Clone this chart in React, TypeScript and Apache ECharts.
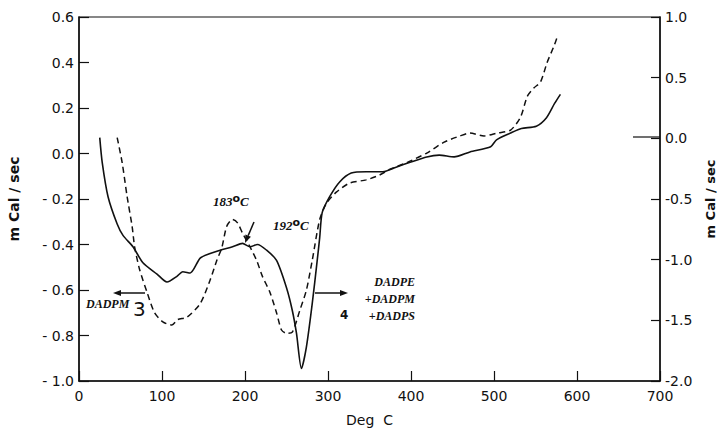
import React, { useEffect, useRef } from "react";
import * as echarts from "echarts";

// Solid curve (DADPE + DADPM + DADPS), temperature in °C, heat flow in mCal/sec
const tempSolid = [25, 28, 35, 46, 53, 65, 77, 94, 106, 118, 125, 134, 146, 158, 170, 185, 197, 206, 215, 226, 238, 250, 257, 262, 268, 274, 281, 287, 290, 293, 302, 314, 328, 346, 366, 382, 398, 419, 434, 452, 471, 496, 503, 520, 533, 551, 563, 573, 580];
const heatSolid = [0.07, -0.04, -0.19, -0.31, -0.36, -0.41, -0.48, -0.53, -0.565, -0.54, -0.52, -0.525, -0.46, -0.44, -0.425, -0.41, -0.395, -0.41, -0.4, -0.425, -0.47, -0.59, -0.69, -0.79, -0.945, -0.85, -0.66, -0.47, -0.37, -0.26, -0.19, -0.125, -0.086, -0.08, -0.08, -0.06, -0.04, -0.015, -0.007, -0.015, 0.007, 0.03, 0.06, 0.09, 0.11, 0.12, 0.156, 0.22, 0.26];

// Dashed curve (DADPM)
const tempDashed = [46, 52, 58, 64, 67, 73, 82, 91, 101, 112, 119, 130, 146, 158, 166, 172, 178, 185, 191, 197, 206, 214, 221, 230, 238, 244, 250, 257, 266, 274, 281, 290, 298, 310, 326, 346, 362, 374, 395, 419, 440, 459, 471, 488, 504, 520, 532, 540, 548, 556, 564, 572, 576];
const heatDashed = [0.07, -0.04, -0.19, -0.32, -0.41, -0.51, -0.61, -0.7, -0.74, -0.754, -0.73, -0.72, -0.66, -0.556, -0.47, -0.415, -0.32, -0.29, -0.305, -0.35, -0.41, -0.47, -0.54, -0.61, -0.7, -0.776, -0.79, -0.785, -0.69, -0.6, -0.47, -0.29, -0.22, -0.17, -0.13, -0.116, -0.095, -0.07, -0.04, 0.002, 0.05, 0.077, 0.09, 0.077, 0.09, 0.103, 0.16, 0.25, 0.288, 0.314, 0.4, 0.47, 0.51];

const annoFont = "'Liberation Serif', 'DejaVu Serif', serif";
const axisFont = "'DejaVu Sans', sans-serif";

function zip(xs: number[], ys: number[]) {
  return xs.map((x, i) => [x, ys[i]]);
}

export default function App() {
  const ref = useRef<HTMLDivElement>(null);
  useEffect(() => {
    document.body.style.margin = "0";
    const chart = echarts.init(ref.current!, null, { renderer: "svg" });
    const labelStyle = { color: "#111", fontFamily: axisFont, fontSize: 14 };
    const annoText = (text: string, x: number, y: number, size: number, align = "left", extra: any = {}) => ({
      type: "text",
      x,
      y,
      style: {
        text,
        fill: "#111",
        font: `italic bold ${size}px ${annoFont}`,
        align,
        verticalAlign: "middle",
        ...extra,
      },
    });
    const arrow = (x1: number, y1: number, x2: number, y2: number) => {
      const dx = x2 - x1, dy = y2 - y1;
      const len = Math.hypot(dx, dy);
      const ux = dx / len, uy = dy / len;
      const hl = 8, hw = 3;
      const bx = x2 - ux * hl, by = y2 - uy * hl;
      return [
        { type: "line", shape: { x1, y1, x2: bx, y2: by }, style: { stroke: "#111", lineWidth: 1.5 } },
        {
          type: "polygon",
          shape: { points: [[x2, y2], [bx - uy * hw, by + ux * hw], [bx + uy * hw, by - ux * hw]] },
          style: { fill: "#111" },
        },
      ];
    };
    chart.setOption({
      animation: false,
      backgroundColor: "#fff",
      grid: {
        left: 79, right: 57, top: 17, bottom: 48,
        show: true, borderColor: "#111", borderWidth: 1.2,
        outerBoundsMode: "none",
      } as any,
      xAxis: {
        type: "value", min: 0, max: 700, interval: 100,
        name: "Deg  C", nameLocation: "middle", nameGap: 32,
        nameTextStyle: { color: "#111", fontFamily: axisFont, fontSize: 14 },
        axisLine: { onZero: false, lineStyle: { color: "#111", width: 1.5 } },
        axisTick: { inside: true, length: 10, lineStyle: { color: "#111", width: 1.2 } },
        axisLabel: { ...labelStyle, margin: 8 },
        splitLine: { show: false },
      },
      yAxis: [
        {
          type: "value", min: -1, max: 0.6, interval: 0.2, position: "left",
          name: "m Cal / sec", nameLocation: "middle", nameGap: 58, nameRotate: 90,
          nameTextStyle: { color: "#111", fontFamily: axisFont, fontSize: 14, fontWeight: "bold" },
          axisLine: { show: true, onZero: false, lineStyle: { color: "#111", width: 1.5 } },
          axisTick: { show: true, inside: true, length: 10, lineStyle: { color: "#111", width: 1.2 } },
          axisLabel: {
            ...labelStyle, margin: 5,
            formatter: (v: number) => (v < -1e-9 ? "- " + Math.abs(v).toFixed(1) : Math.abs(v).toFixed(1)),
          },
          splitLine: { show: false },
        },
        {
          type: "value", min: -2, max: 1, interval: 0.5, position: "right",
          name: "m Cal / sec", nameLocation: "middle", nameGap: 44, nameRotate: 90,
          nameTextStyle: { color: "#111", fontFamily: axisFont, fontSize: 13, fontWeight: "bold" },
          axisLine: { show: true, onZero: false, lineStyle: { color: "#111", width: 1.5 } },
          axisTick: { show: true, inside: true, length: 9, lineStyle: { color: "#111", width: 1.2 } },
          axisLabel: {
            ...labelStyle, margin: 5,
            formatter: (v: number) => (Math.abs(v) < 1e-9 ? "0.0" : v.toFixed(1)),
          },
          splitLine: { show: false },
        },
      ],
      series: [
        {
          type: "line", name: "DADPE+DADPM+DADPS", yAxisIndex: 0,
          data: zip(tempSolid, heatSolid), showSymbol: false, smooth: 0.25,
          lineStyle: { color: "#111", width: 1.6, type: "solid" },
        },
        {
          type: "line", name: "DADPM", yAxisIndex: 0,
          data: zip(tempDashed, heatDashed), showSymbol: false, smooth: 0.25,
          lineStyle: { color: "#111", width: 1.5, type: [6, 4] },
        },
      ],
      graphic: [
        { type: "line", shape: { x1: 633, y1: 137, x2: 660, y2: 137 }, style: { stroke: "#111", lineWidth: 1.2 } },
        {
          type: "text", x: 213, y: 201,
          style: {
            text: "183{s|o}C", fill: "#111", font: `italic bold 13px ${annoFont}`, verticalAlign: "middle",
            rich: { s: { fontSize: 11, fontWeight: "bold", fontFamily: axisFont, verticalAlign: "top", padding: [0, 0, 6, 0] } },
          },
        },
        {
          type: "text", x: 273, y: 225,
          style: {
            text: "192{s|o}C", fill: "#111", font: `italic bold 13px ${annoFont}`, verticalAlign: "middle",
            rich: { s: { fontSize: 11, fontWeight: "bold", fontFamily: axisFont, verticalAlign: "top", padding: [0, 0, 6, 0] } },
          },
        },
        ...arrow(254, 222, 245, 243),
        ...arrow(145, 293, 113, 293),
        ...arrow(315, 293, 348, 293),
        annoText("DADPM", 86, 304, 12),
        { type: "text", x: 133, y: 309, style: { text: "3", fill: "#111", font: `20px ${axisFont}`, verticalAlign: "middle" } },
        { type: "text", x: 340, y: 315, style: { text: "4", fill: "#111", font: `bold 12px ${axisFont}`, verticalAlign: "middle" } },
        annoText("DADPE", 415, 282, 12, "right"),
        annoText("+DADPM", 415, 299, 12, "right"),
        annoText("+DADPS", 415, 316, 12, "right"),
      ],
    });
    return () => chart.dispose();
  }, []);
  return <div ref={ref} style={{ width: 717, height: 429 }} />;
}
